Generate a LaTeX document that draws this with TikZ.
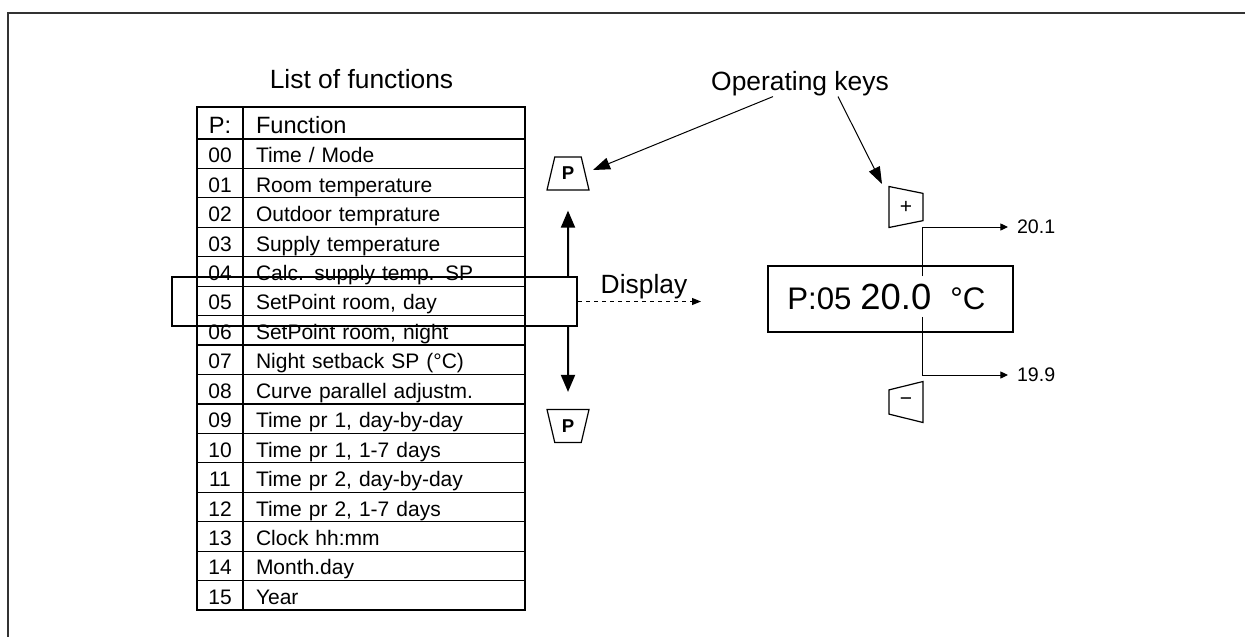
\documentclass[tikz,border=0pt]{standalone}
\usepackage{fontspec}
\setmainfont{Liberation Sans}
\usetikzlibrary{arrows.meta, shapes.geometric}

\begin{document}
\begin{tikzpicture}[x=0.5pt, y=-0.5pt,
  cell/.style={draw, line width=0.6pt, minimum height=14.72pt, inner sep=0pt, text height=9pt, text depth=0pt},
  numcell/.style={cell, minimum width=23pt, font=\fontsize{10.5}{12}\selectfont},
  funcell/.style={cell, minimum width=141pt, text width=128pt, align=left, font=\fontsize{10.5}{12}\selectfont},
  headcell/.style={minimum height=16pt, text height=10.3pt, font=\fontsize{11.8}{13}\selectfont},
  title/.style={anchor=base, inner sep=0pt, font=\fontsize{13.2}{15}\selectfont},
  key/.style={trapezium, draw, line width=0.6pt, trapezium stretches=true, inner sep=1pt},
  pkey/.style={key, minimum width=21pt, minimum height=16.5pt, font=\fontsize{9.3}{10}\selectfont\bfseries},
  vkey/.style={key, minimum width=20.5pt, minimum height=17pt, trapezium left angle=76, trapezium right angle=76, font=\fontsize{10.5}{11}\selectfont},
  ptr/.style={line width=0.5pt, -{Triangle[length=8.5pt, width=6pt]}},
  bigarr/.style={line width=1pt, -{Triangle[length=8.5pt, width=7pt]}},
  smallarr/.style={line width=0.5pt, -{Triangle[length=3.8pt, width=3.5pt]}},
  dasharr/.style={line width=0.5pt, dash pattern=on 2pt off 2pt, -{Triangle[length=4.5pt, width=3.5pt]}},
  frame/.style={line width=1pt, black!80}]
\useasboundingbox (0,0) rectangle (1245,637);
\draw[frame] (1245,13) -- (8,13) -- (8,637);

\node[title] (listttl) at (361.5,88) {List of functions};
\node[title] (keys) at (800,90.7) {Operating keys};

\node[numcell, headcell] (numhd) at (220,123) {P:};
\node[funcell, headcell] (funhd) at (384,123) {Function};
\foreach \n/\f [count=\k from 0] in {00/{Time / Mode}, 01/{Room temperature}, 02/{Outdoor temprature},
  03/{Supply temperature}, 04/{Calc. supply temp. SP}, 05/{SetPoint room, day}, 06/{SetPoint room, night},
  07/{Night setback SP (°C)}, 08/{Curve parallel adjustm.}, 09/{Time pr 1, day-by-day}, 10/{Time pr 1, 1-7 days},
  11/{Time pr 2, day-by-day}, 12/{Time pr 2, 1-7 days}, 13/{Clock hh:mm}, 14/{Month.day}, 15/{Year}}
{
  \node[numcell] (num\n) at (220,{153.72+29.44*\k}) {\n};
  \node[funcell] (fun\n) at (384,{153.72+29.44*\k}) {\f};
}
\node[draw, line width=1.2pt, minimum width=202.5pt, minimum height=24.5pt] (sel) at (374.5,301.5) {};

\node[pkey, trapezium left angle=74, trapezium right angle=74] (pup) at (568,173.5) {P};
\node[pkey, trapezium left angle=106, trapezium right angle=106] (pdn) at (568,426) {P};
\draw[bigarr] (sel.north -| pup.center) -- ([yshift=-10pt]pup.south);
\draw[bigarr] (sel.south -| pdn.center) -- ([yshift=8.5pt]pdn.north);

\node[title] (dlab) at (644,293) {Display};
\coordinate (dispin) at (701,301.5);
\draw[dasharr] (sel.east) -- (dispin);

\node[vkey, shape border rotate=270] (kplus) at (906,207) {+};
\node[vkey, shape border rotate=90] (kminus) at (906,402) {−};
\draw[ptr] ([xshift=-13.5pt]keys.south) -- ([shift={(12.5pt,1.75pt)}]pup.center);
\draw[ptr] ([xshift=19pt]keys.south) -- ([shift={(-12pt,11.5pt)}]kplus.center);

\node[draw, line width=1.2pt, minimum width=122.5pt, minimum height=33pt] (disp) at (890.5,299) {};
\node[anchor=base west, inner sep=0pt, font=\fontsize{15.6}{18}\selectfont] (dcode) at (787,309) {P:05};
\node[anchor=base west, inner xsep=0pt, inner ysep=3.5pt, font=\fontsize{18.2}{20}\selectfont] (dval) at (860,309) {20.0};
\node[anchor=base west, inner sep=0pt, font=\fontsize{15.6}{18}\selectfont] (dunit) at (950,309) {°C};

\node[anchor=west, inner xsep=4.3pt, font=\fontsize{9.8}{11}\selectfont] (up) at (1008,227) {20.1};
\node[anchor=west, inner xsep=4.3pt, font=\fontsize{9.8}{11}\selectfont] (dn) at (1008,375) {19.9};
\draw[smallarr] ([xshift=13.25pt]dval.north) |- (up.west);
\draw[smallarr] ([xshift=13.25pt]dval.south) |- (dn.west);
\end{tikzpicture}
\end{document}
